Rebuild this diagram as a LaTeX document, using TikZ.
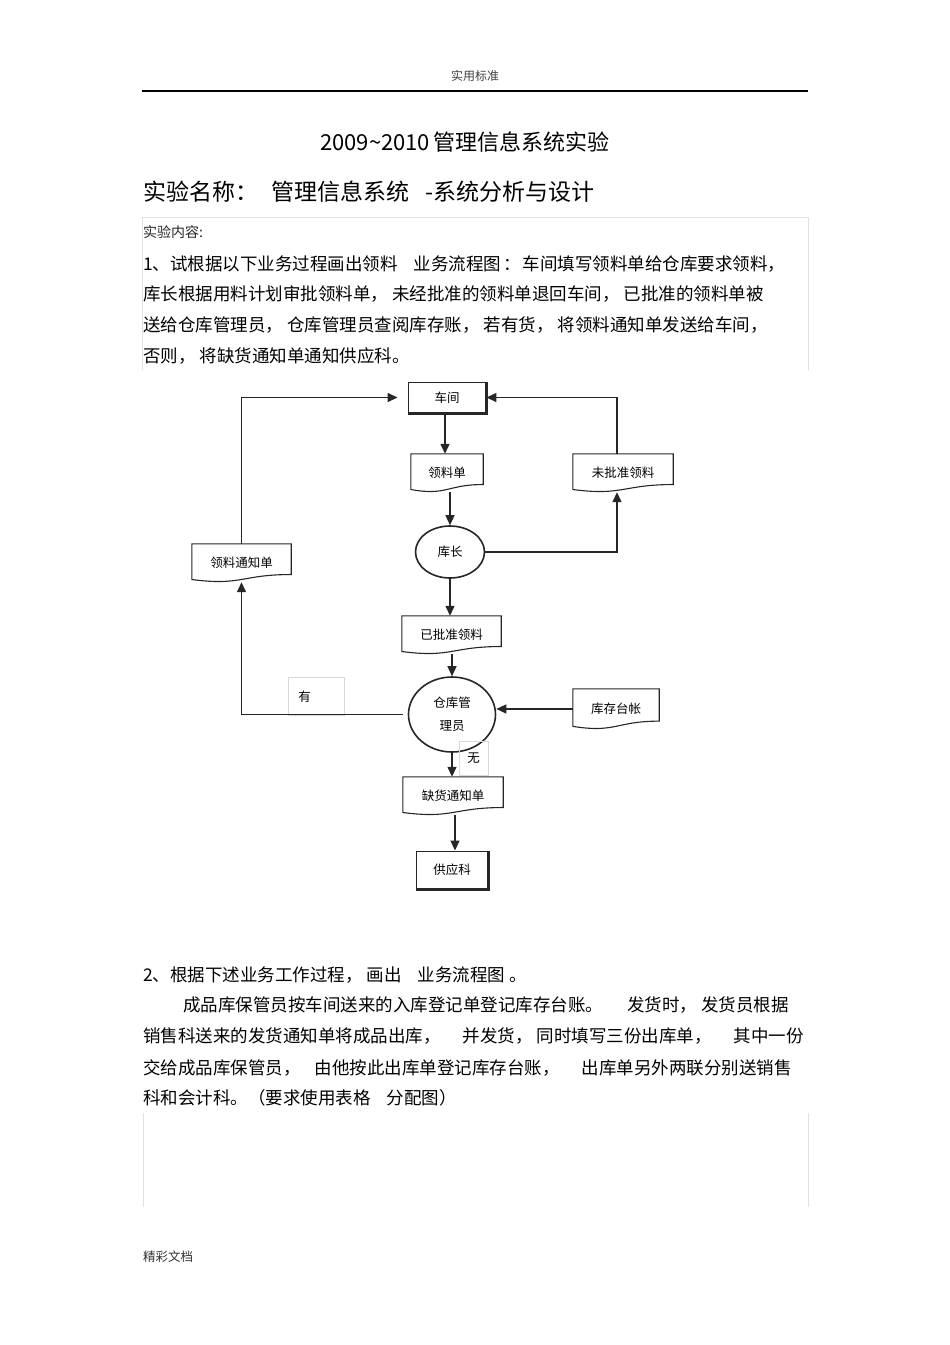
\documentclass[tikz,border=0pt]{standalone}
\usepackage{fontspec}
\setmainfont{Noto Sans CJK SC}
\usetikzlibrary{arrows.meta,calc,shapes.geometric}

\newcommand{\bodytxt}{\fontsize{17.5}{20}\selectfont}
\newcommand{\labeltxt}{\fontsize{12.5}{14}\selectfont}

% document symbol: rectangle with a wavy lower edge
\newcommand{\docshape}[1]{%
  \draw[docline] (#1.north west) -- (#1.north east)
    -- ($(#1.north east)!0.8!(#1.south east)$)
    .. controls ($(#1.north)!0.8!(#1.south)$) and ($(#1.north)!1.1!(#1.south)$)
    .. ($(#1.north west)!0.93!(#1.south west)$) -- cycle;}
% heavy right and lower edge of a box
\newcommand{\boxshadow}[1]{%
  \draw[line width=2.2pt,black!85] (#1.north east) -- (#1.south east) -- (#1.south west);}

\begin{document}
\begin{tikzpicture}[x=1pt,y=-1pt,
  conn/.style={draw=black!85, line width=1.4pt},
  arr/.style={conn, -{Triangle[length=10pt,width=9pt]}},
  docline/.style={draw=black!85, line width=1.1pt},
  docnode/.style={inner sep=0pt, font=\labeltxt},
  procbox/.style={draw=black!85, line width=0.9pt, inner sep=0pt, font=\labeltxt},
  oval/.style={ellipse, draw=black!85, line width=1.6pt, inner sep=0pt, font=\labeltxt},
  tagbox/.style={draw=black!15, line width=0.7pt, inner sep=0pt, font=\labeltxt},
  txt/.style={anchor=west, inner sep=0pt},
  frame/.style={draw=black!12, line width=0.8pt}]
\useasboundingbox (0,0) rectangle (950,1345);

% page head
\node[font=\fontsize{12}{14}\selectfont, text=black!75] (head) at (475,76) {实用标准};
\draw[line width=1.1pt] (142,91) -- (808,91);
\node[font=\fontsize{22}{26}\selectfont] (title) at (465,142) {2009\textasciitilde2010\,管理信息系统实验};
\node[txt, font=\fontsize{23}{26}\selectfont] (name) at (143,192) {实验名称：\hspace{13pt}管理信息系统\hspace{16pt}-系统分析与设计};

% task 1
\draw[frame] (142,370) -- (142,217) -- (808,217) -- (808,370);
\node[txt, font=\fontsize{14}{16}\selectfont, text=black!85] (cont) at (143,232) {实验内容:};
\node[txt, font=\bodytxt] (t1a) at (143,264) {1、试根据以下业务过程画出领料\hspace{16pt}业务流程图\hspace{2pt}：\hspace{2pt}车间填写领料单给仓库要求领料，};
\node[txt, font=\bodytxt] (t1b) at (143,294) {库长根据用料计划审批领料单，\hspace{4pt}未经批准的领料单退回车间，\hspace{4pt}已批准的领料单被};
\node[txt, font=\bodytxt] (t1c) at (143,325) {送给仓库管理员，\hspace{4pt}仓库管理员查阅库存账，\hspace{4pt}若有货，\hspace{4pt}将领料通知单发送给车间，};
\node[txt, font=\bodytxt] (t1d) at (143,356) {否则，\hspace{4pt}将缺货通知单通知供应科。};

% flow chart
\node[procbox, minimum width=78, minimum height=31] (cj) at (447,397.5) {车间};
\node[docnode, minimum width=72, minimum height=38] (lld) at (447,473) {领料单};
\node[docnode, minimum width=100, minimum height=38] (wpz) at (623,473) {未批准领料};
\node[oval, minimum width=69, minimum height=52] (kz) at (450,552) {库长};
\node[docnode, minimum width=99, minimum height=38] (lltz) at (241.5,563) {领料通知单};
\node[docnode, minimum width=99, minimum height=38] (ypz) at (451.5,635) {已批准领料};
\node[oval, minimum width=87, minimum height=75, align=center] (ck) at (452,714.5) {仓库管\\[9pt]理员};
\node[docnode, minimum width=86, minimum height=40] (kc) at (616,709) {库存台帐};
\node[docnode, minimum width=100, minimum height=38] (qh) at (453,796) {缺货通知单};
\node[procbox, minimum width=72, minimum height=38] (gyk) at (452,870) {供应科};
\node[tagbox, minimum width=56, minimum height=38, anchor=north west, text width=36, inner xsep=10, align=left] (you) at (288,677) {有};
\node[tagbox, minimum width=29, minimum height=34] (wu) at (473.5,758) {无};

\docshape{lld}
\docshape{wpz}
\docshape{lltz}
\docshape{ypz}
\docshape{kc}
\docshape{qh}
\boxshadow{cj}
\boxshadow{gyk}

\draw[arr] ([xshift=-2pt]cj.south) -- ([xshift=-2pt]lld.north);
\draw[arr] (kz.north |- lld.south) -- (kz.north);
\draw[arr] (kz.east) -| ([xshift=-6pt]wpz.south);
\draw[arr] ([xshift=-6pt]wpz.north) |- (cj.east);
\draw[arr] (kz.south) -- (kz.south |- ypz.north);
\draw[arr] (ck.north |- ypz.south) -- (ck.north);
\draw[arr] (kc.west) -- (kc.west -| ck.east);
\draw[arr, shorten <=5pt] (ck.west) -| (lltz.south);
\draw[arr, shorten >=10pt] (lltz.north) |- (cj.west);
\draw[arr] (ck.south) -- (ck.south |- qh.north);
\draw[arr] ([xshift=2pt]qh.south) -- ([xshift=2pt]qh.south |- gyk.north);

% task 2
\node[txt, font=\bodytxt] (t2a) at (143,975) {2、根据下述业务工作过程，\hspace{4pt}画出\hspace{16pt}业务流程图\hspace{4pt}。};
\node[txt, font=\bodytxt] (t2b) at (183,1005) {成品库保管员按车间送来的入库登记单登记库存台账。\hspace{24pt}发货时，\hspace{4pt}发货员根据};
\node[txt, font=\bodytxt] (t2c) at (143,1036) {销售科送来的发货通知单将成品出库，\hspace{22pt}并发货，\hspace{4pt}同时填写三份出库单，\hspace{22pt}其中一份};
\node[txt, font=\bodytxt] (t2d) at (143,1068) {交给成品库保管员，\hspace{14pt}由他按此出库单登记库存台账，\hspace{22pt}出库单另外两联分别送销售};
\node[txt, font=\bodytxt] (t2e) at (143,1098) {科和会计科。（要求使用表格\hspace{16pt}分配图）};
\draw[frame] (143,1113) -- (143,1207);
\draw[frame] (808,1113) -- (808,1207);

% page foot
\node[txt, font=\fontsize{12.5}{14}\selectfont, text=black!80] (foot) at (143,1257) {精彩文档};
\end{tikzpicture}
\end{document}
